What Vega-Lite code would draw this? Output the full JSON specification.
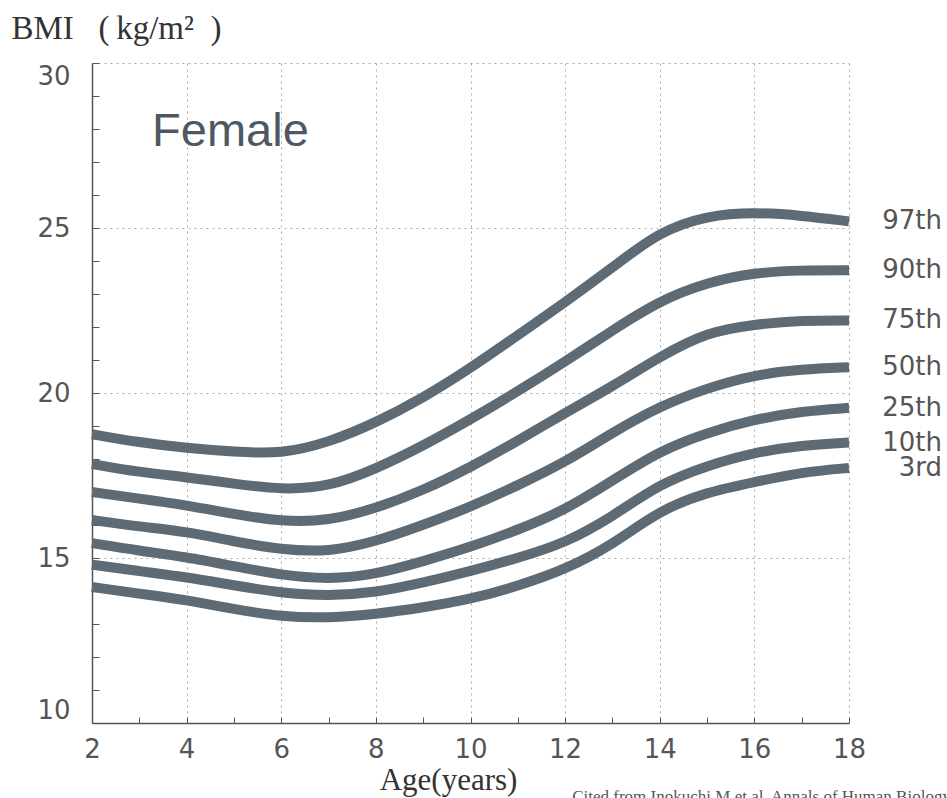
{
  "$schema": "https://vega.github.io/schema/vega-lite/v6.json",
  "width": 757,
  "height": 660,
  "autosize": "none",
  "padding": {"left": 92, "top": 63, "right": 98, "bottom": 75},
  "background": "white",
  "config": {"view": {"stroke": null}},
  "datasets": {
    "curves": [
      {"pct":"97th","age":2,"bmi":18.75},{"pct":"97th","age":3,"bmi":18.5},{"pct":"97th","age":4,"bmi":18.33},{"pct":"97th","age":5,"bmi":18.22},{"pct":"97th","age":6,"bmi":18.15},{"pct":"97th","age":7,"bmi":18.5},{"pct":"97th","age":8,"bmi":19.1},{"pct":"97th","age":9,"bmi":19.85},{"pct":"97th","age":10,"bmi":20.75},{"pct":"97th","age":11,"bmi":21.75},{"pct":"97th","age":12,"bmi":22.75},{"pct":"97th","age":13,"bmi":23.8},{"pct":"97th","age":14,"bmi":24.9},{"pct":"97th","age":15,"bmi":25.38},{"pct":"97th","age":16,"bmi":25.48},{"pct":"97th","age":17,"bmi":25.38},{"pct":"97th","age":18,"bmi":25.2},
      {"pct":"90th","age":2,"bmi":17.85},{"pct":"90th","age":3,"bmi":17.6},{"pct":"90th","age":4,"bmi":17.45},{"pct":"90th","age":5,"bmi":17.25},{"pct":"90th","age":6,"bmi":17.07},{"pct":"90th","age":7,"bmi":17.15},{"pct":"90th","age":8,"bmi":17.7},{"pct":"90th","age":9,"bmi":18.4},{"pct":"90th","age":10,"bmi":19.2},{"pct":"90th","age":11,"bmi":20.05},{"pct":"90th","age":12,"bmi":20.95},{"pct":"90th","age":13,"bmi":21.9},{"pct":"90th","age":14,"bmi":22.8},{"pct":"90th","age":15,"bmi":23.35},{"pct":"90th","age":16,"bmi":23.65},{"pct":"90th","age":17,"bmi":23.72},{"pct":"90th","age":18,"bmi":23.72},
      {"pct":"75th","age":2,"bmi":17.0},{"pct":"75th","age":3,"bmi":16.8},{"pct":"75th","age":4,"bmi":16.6},{"pct":"75th","age":5,"bmi":16.33},{"pct":"75th","age":6,"bmi":16.1},{"pct":"75th","age":7,"bmi":16.12},{"pct":"75th","age":8,"bmi":16.5},{"pct":"75th","age":9,"bmi":17.05},{"pct":"75th","age":10,"bmi":17.75},{"pct":"75th","age":11,"bmi":18.55},{"pct":"75th","age":12,"bmi":19.4},{"pct":"75th","age":13,"bmi":20.2},{"pct":"75th","age":14,"bmi":21.1},{"pct":"75th","age":15,"bmi":21.85},{"pct":"75th","age":16,"bmi":22.08},{"pct":"75th","age":17,"bmi":22.2},{"pct":"75th","age":18,"bmi":22.2},
      {"pct":"50th","age":2,"bmi":16.15},{"pct":"50th","age":3,"bmi":15.95},{"pct":"50th","age":4,"bmi":15.8},{"pct":"50th","age":5,"bmi":15.5},{"pct":"50th","age":6,"bmi":15.25},{"pct":"50th","age":7,"bmi":15.18},{"pct":"50th","age":8,"bmi":15.5},{"pct":"50th","age":9,"bmi":16.0},{"pct":"50th","age":10,"bmi":16.55},{"pct":"50th","age":11,"bmi":17.2},{"pct":"50th","age":12,"bmi":17.9},{"pct":"50th","age":13,"bmi":18.8},{"pct":"50th","age":14,"bmi":19.6},{"pct":"50th","age":15,"bmi":20.15},{"pct":"50th","age":16,"bmi":20.55},{"pct":"50th","age":17,"bmi":20.72},{"pct":"50th","age":18,"bmi":20.78},
      {"pct":"25th","age":2,"bmi":15.45},{"pct":"25th","age":3,"bmi":15.22},{"pct":"25th","age":4,"bmi":15.03},{"pct":"25th","age":5,"bmi":14.75},{"pct":"25th","age":6,"bmi":14.48},{"pct":"25th","age":7,"bmi":14.35},{"pct":"25th","age":8,"bmi":14.5},{"pct":"25th","age":9,"bmi":14.9},{"pct":"25th","age":10,"bmi":15.33},{"pct":"25th","age":11,"bmi":15.85},{"pct":"25th","age":12,"bmi":16.45},{"pct":"25th","age":13,"bmi":17.35},{"pct":"25th","age":14,"bmi":18.25},{"pct":"25th","age":15,"bmi":18.8},{"pct":"25th","age":16,"bmi":19.2},{"pct":"25th","age":17,"bmi":19.45},{"pct":"25th","age":18,"bmi":19.55},
      {"pct":"10th","age":2,"bmi":14.8},{"pct":"10th","age":3,"bmi":14.6},{"pct":"10th","age":4,"bmi":14.42},{"pct":"10th","age":5,"bmi":14.17},{"pct":"10th","age":6,"bmi":13.94},{"pct":"10th","age":7,"bmi":13.85},{"pct":"10th","age":8,"bmi":13.95},{"pct":"10th","age":9,"bmi":14.25},{"pct":"10th","age":10,"bmi":14.6},{"pct":"10th","age":11,"bmi":15.0},{"pct":"10th","age":12,"bmi":15.45},{"pct":"10th","age":13,"bmi":16.25},{"pct":"10th","age":14,"bmi":17.25},{"pct":"10th","age":15,"bmi":17.8},{"pct":"10th","age":16,"bmi":18.2},{"pct":"10th","age":17,"bmi":18.42},{"pct":"10th","age":18,"bmi":18.5},
      {"pct":"3rd","age":2,"bmi":14.12},{"pct":"3rd","age":3,"bmi":13.92},{"pct":"3rd","age":4,"bmi":13.73},{"pct":"3rd","age":5,"bmi":13.45},{"pct":"3rd","age":6,"bmi":13.22},{"pct":"3rd","age":7,"bmi":13.18},{"pct":"3rd","age":8,"bmi":13.3},{"pct":"3rd","age":9,"bmi":13.5},{"pct":"3rd","age":10,"bmi":13.75},{"pct":"3rd","age":11,"bmi":14.15},{"pct":"3rd","age":12,"bmi":14.65},{"pct":"3rd","age":13,"bmi":15.4},{"pct":"3rd","age":14,"bmi":16.45},{"pct":"3rd","age":15,"bmi":17.0},{"pct":"3rd","age":16,"bmi":17.3},{"pct":"3rd","age":17,"bmi":17.6},{"pct":"3rd","age":18,"bmi":17.73}
    ]
  },
  "layer": [
    {
      "data": {"name": "curves"},
      "mark": {"type": "line", "interpolate": "basis", "strokeWidth": 10, "color": "#5e6a74", "strokeCap": "butt"},
      "encoding": {
        "x": {
          "field": "age", "type": "quantitative",
          "scale": {"domain": [2, 18], "nice": false, "zero": false},
          "axis": {
            "values": [2,3,4,5,6,7,8,9,10,11,12,13,14,15,16,17,18],
            "tickCount": 100, "format": "d",
            "labelExpr": "datum.value % 2 === 0 ? datum.label : ''",
            "labelOverlap": false, "labelFlush": false,
            "grid": true, "gridColor": "#aaaaaa", "gridDash": [2, 4], "gridWidth": 1,
            "gridOpacity": {"condition": {"test": "datum.value % 2 === 0 && datum.value > 2", "value": 1}, "value": 0},
            "tickSize": -6, "tickColor": "#555555", "tickWidth": 1,
            "domainColor": "#555555", "domainWidth": 1.5,
            "labelFont": "DejaVu Sans", "labelFontSize": 26, "labelColor": "#555555", "labelPadding": 19,
            "title": "Age(years)", "titleFont": "Liberation Serif", "titleFontSize": 31, "titleFontWeight": "normal", "titleColor": "#333333",
            "titleX": 356, "titleY": 57, "titleAlign": "center", "titleBaseline": "middle"
          }
        },
        "y": {
          "field": "bmi", "type": "quantitative",
          "scale": {"domain": [10, 30], "nice": false, "zero": false},
          "axis": {
            "values": [10,11,12,13,14,15,16,17,18,19,20,21,22,23,24,25,26,27,28,29,30],
            "tickCount": 100, "format": "d",
            "labelExpr": "datum.value % 5 === 0 ? datum.label : ''",
            "labelOverlap": false, "labelFlush": true,
            "grid": true, "gridColor": "#aaaaaa", "gridDash": [2, 4], "gridWidth": 1,
            "gridOpacity": {"condition": {"test": "datum.value % 5 === 0 && datum.value > 10", "value": 1}, "value": 0},
            "tickSize": -7, "tickColor": "#555555", "tickWidth": 1,
            "domainColor": "#555555", "domainWidth": 1.5,
            "labelFont": "DejaVu Sans", "labelFontSize": 26, "labelColor": "#555555", "labelPadding": 29,
            "title": "BMI\u00a0\u00a0\u00a0(\u2009kg/m²\u00a0\u00a0)", "titleFont": "Liberation Serif", "titleFontSize": 33, "titleFontWeight": "normal", "titleColor": "#333333",
            "titleAngle": 0, "titleX": -81, "titleY": -35, "titleAlign": "left", "titleBaseline": "middle"
          }
        },
        "detail": {"field": "pct"}
      }
    },
    {
      "data": {"name": "curves"},
      "transform": [{"filter": "datum.age === 18"}],
      "mark": {"type": "text", "align": "right", "baseline": "middle", "dx": 93, "font": "DejaVu Sans", "fontSize": 26, "color": "#555555"},
      "encoding": {
        "x": {"field": "age", "type": "quantitative"},
        "y": {"field": "bmi", "type": "quantitative"},
        "text": {"field": "pct"}
      }
    },
    {
      "data": {"values": [{"label": "Female", "age": 3.27, "bmi": 27.9}]},
      "mark": {"type": "text", "align": "left", "baseline": "middle", "font": "Liberation Sans", "fontSize": 47, "color": "#4d5863"},
      "encoding": {
        "x": {"field": "age", "type": "quantitative"},
        "y": {"field": "bmi", "type": "quantitative"},
        "text": {"field": "label"}
      }
    },
    {
      "data": {"values": [{"label": "Cited from Inokuchi M et al. Annals of Human Biology", "age": 12.15, "bmi": 7.75}]},
      "mark": {"type": "text", "align": "left", "baseline": "middle", "font": "Liberation Serif", "fontSize": 17, "color": "#555555"},
      "encoding": {
        "x": {"field": "age", "type": "quantitative"},
        "y": {"field": "bmi", "type": "quantitative"},
        "text": {"field": "label"}
      }
    }
  ]
}
